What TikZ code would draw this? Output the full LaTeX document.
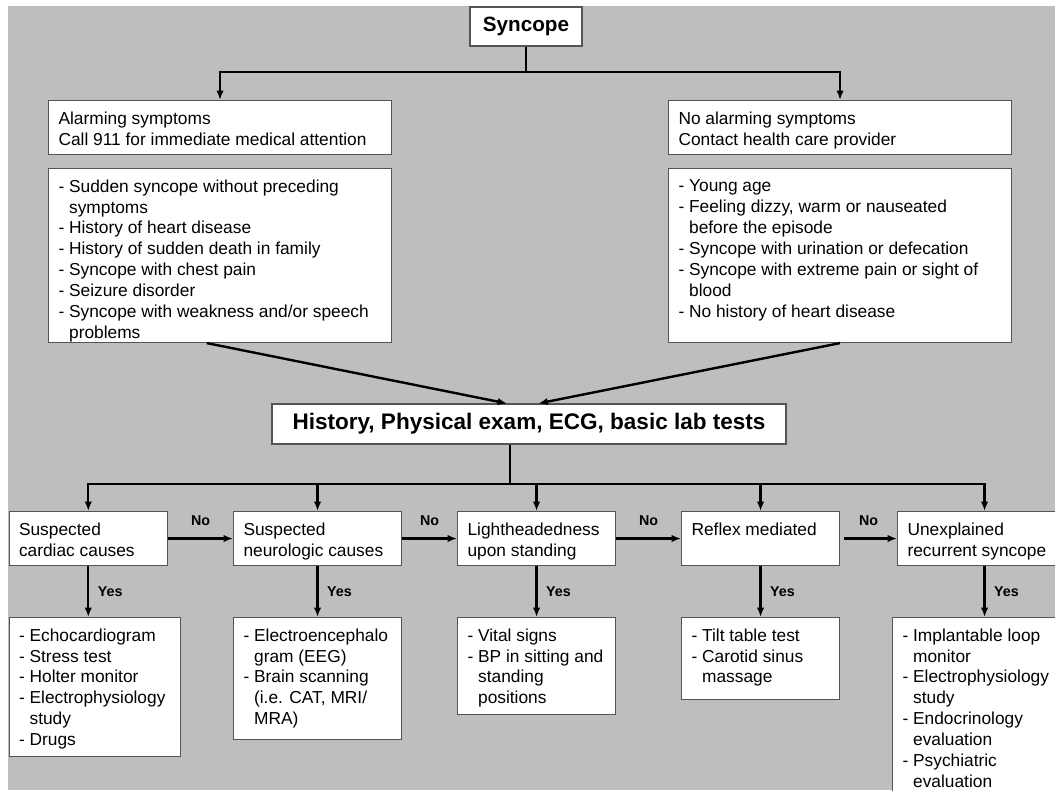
\documentclass[tikz,border=0pt]{standalone}
\usepackage{fontspec}
\setmainfont{Liberation Sans}
\usetikzlibrary{arrows.meta}
\definecolor{bggray}{RGB}{190,190,190}
\definecolor{edgegray}{RGB}{85,85,85}
\newlength{\px}\setlength{\px}{0.75pt}
\newcommand{\cell}[3]{\parbox[t][#2\px][t]{#1\px}{#3}}
\newcommand{\ind}{\hphantom{- }}
\hyphenpenalty=10000
\tikzstyle{box} = [draw=edgegray,fill=white,line width=0.8pt,anchor=north west,inner xsep=7.5pt,inner ysep=8.25pt,font=\fontsize{13}{15.7}\selectfont]
\tikzstyle{title} = [draw=edgegray,fill=white,line width=0.8pt,inner sep=0pt]
\tikzstyle{lbl} = [font=\bfseries\fontsize{10.7}{12}\selectfont]
\tikzstyle{line} = [line width=1.8pt]
\tikzstyle{arrow} = [line width=1.8pt,-{Latex[length=7pt,width=5.5pt]}]

\begin{document}
\begin{tikzpicture}[x=0.75pt,y=-0.75pt]

% background
\fill[white] (0,0) rectangle (1055,790);
\fill[bggray] (8,6) rectangle (1055,790);
\useasboundingbox (0,0) rectangle (1055,790);

% top
\node[title,minimum width=84pt,minimum height=29.25pt,font=\bfseries\fontsize{15.5}{18}\selectfont] (syncope) at (526,26.5) {Syncope};

\node[box] (alarm) at (48,100) {\cell{323}{32}{Alarming symptoms\\
Call 911 for immediate medical attention}};
\node[box] (alarm-list) at (48,168) {\cell{323}{152}{- Sudden syncope without preceding\\
\ind symptoms\\
- History of heart disease\\
- History of sudden death in family\\
- Syncope with chest pain\\
- Seizure disorder\\
- Syncope with weakness and/or speech\\
\ind problems}};

\node[box] (noalarm) at (668,100) {\cell{323}{32}{No alarming symptoms\\
Contact health care provider}};
\node[box] (noalarm-list) at (668,168) {\cell{323}{152}{- Young age\\
- Feeling dizzy, warm or nauseated\\
\ind before the episode\\
- Syncope with urination or defecation\\
- Syncope with extreme pain or sight of\\
\ind blood\\
- No history of heart disease}};

\node[title,minimum width=385.5pt,minimum height=30pt,font=\bfseries\fontsize{16.9}{20}\selectfont] (history) at (529,424) {History, Physical exam, ECG, basic lab tests};

% causes
\node[box] (cardiac) at (8.5,511) {\cell{138.5}{32}{Suspected\\cardiac causes}};
\node[box] (neuro) at (233,511) {\cell{148}{32}{Suspected\\neurologic causes}};
\node[box] (light) at (457,511) {\cell{138}{32}{Lightheadedness\\upon standing}};
\node[box] (reflex) at (681,511) {\cell{138}{32}{Reflex mediated}};
\node[box] (unexpl) at (897,511) {\cell{154}{32}{Unexplained\\recurrent syncope}};

% tests
\node[box] (cardiac-tests) at (8.5,617) {\cell{151.5}{117}{- Echocardiogram\\
- Stress test\\
- Holter monitor\\
- Electrophysiology\\
\ind study\\
- Drugs}};
\node[box] (neuro-tests) at (233,617) {\cell{148}{100}{- Electroencephalo\\
\ind gram (EEG)\\
- Brain scanning\\
\ind (i.e. CAT, MRI/\\
\ind MRA)}};
\node[box] (light-tests) at (457,617) {\cell{138}{75}{- Vital signs\\
- BP in sitting and\\
\ind standing\\
\ind positions}};
\node[box] (reflex-tests) at (681,617) {\cell{138}{60}{- Tilt table test\\
- Carotid sinus\\
\ind massage}};
\node[box] (unexpl-tests) at (892,617) {\cell{159}{190}{- Implantable loop\\
\ind monitor\\
- Electrophysiology\\
\ind study\\
- Endocrinology\\
\ind evaluation\\
- Psychiatric\\
\ind evaluation}};

% connectors
\coordinate (topfork) at (syncope.south |- 0,72);
\draw[line] (syncope) -- (topfork);
\foreach \n in {alarm,noalarm}
  \draw[arrow] (topfork) -| (\n.north);

\draw[arrow] ([xshift=-10pt]alarm-list.south) -- ([xshift=-16.5pt]history.north);
\draw[arrow] (noalarm-list.south) -- ([xshift=7pt]history.north);

\coordinate (botfork) at (510,484);
\draw[line] (botfork |- history.south) -- (botfork);
\foreach \n in {cardiac,neuro,light,reflex,unexpl}
  \draw[arrow] (botfork) -| (\n.north);

\foreach \a/\b in {cardiac/neuro,neuro/light,light/reflex}
  \draw[arrow] (\a) -- (\b) node[midway,above=5.3pt,lbl] {No};
\draw[arrow,shorten <=3pt] (reflex) -- (unexpl) node[midway,above=5.3pt,lbl] {No};

\foreach \n in {cardiac,neuro,light,reflex,unexpl}
  \draw[arrow] (\n.south) -- (\n.south |- \n-tests.north) node[midway,right=3pt,lbl] {Yes};

\end{tikzpicture}
\end{document}
